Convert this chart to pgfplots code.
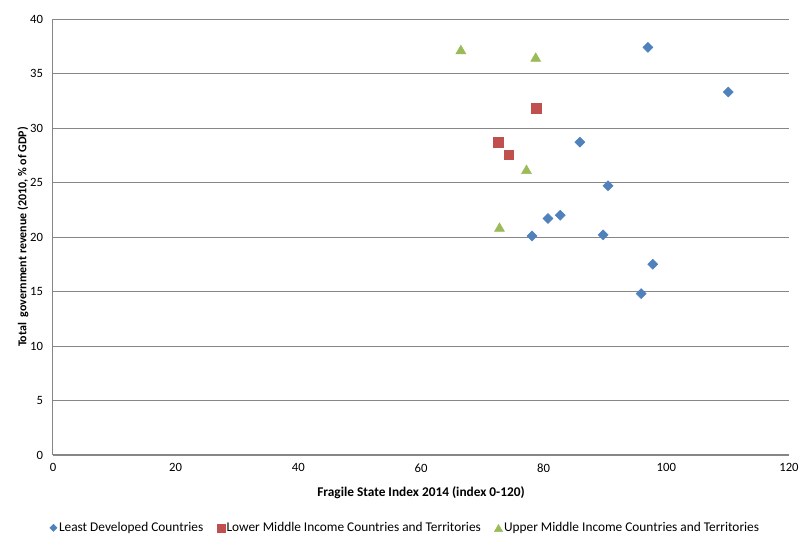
\documentclass[border=0pt]{standalone}
\usepackage{pgfplots}
\pgfplotsset{compat=1.18}
\usepackage{fontspec}
\setmainfont{Carlito}

\definecolor{ldcblue}{HTML}{4F81BD}
\definecolor{lmicred}{HTML}{C0504D}
\definecolor{umicgreen}{HTML}{9BBB59}
\definecolor{gridgray}{HTML}{868686}

\begin{document}
\begin{tikzpicture}[x=1pt,y=1pt]
% page frame: 801 x 536 px at 0.75 pt per px, axis box at the origin
\path[use as bounding box] (-39.75,-60.75) rectangle (561,341.25);
\begin{axis}[
  at={(0,0)}, anchor=south west,
  scale only axis,
  width=552pt, height=327pt,
  xmin=0, xmax=120, ymin=0, ymax=40,
  xtick={0,20,...,120}, ytick={0,5,...,40},
  major tick length=0pt,
  axis x line*=bottom, axis y line*=left,
  axis line style={gridgray, line width=0.75pt, -},
  ymajorgrids,
  grid style={gridgray, line width=0.6pt},
  tick label style={font=\fontsize{9.5}{11}\selectfont, black},
  /pgf/number format/assume math mode=true,
  xticklabel style={yshift=-3pt},
  yticklabel style={xshift=-4pt},
  xlabel={\textbf{Fragile State Index 2014 (index 0-120)}},
  ylabel={\textbf{Total\ \ government revenue (2010, \% of GDP)}},
  xlabel style={font=\fontsize{10}{12}\selectfont,
    at={(axis description cs:0.5,0)}, anchor=north, yshift=-20pt},
  ylabel style={font=\fontsize{9}{11}\selectfont,
    at={(axis description cs:0,0.5)}, anchor=south, yshift=15pt},
  legend columns=3,
  legend style={draw=none, fill=none, font=\fontsize{10}{12}\selectfont,
    at={(axis description cs:0.478,-0.167)}, anchor=center,
    inner xsep=0pt,
    nodes={inner xsep=1pt},
    /tikz/every even column/.append style={column sep=9pt}},
  legend cell align=left,
  legend image code/.code={%
    \draw[#1] plot coordinates {(0pt,0pt)};
    \path (-3pt,0pt) (3pt,0pt);},
]
\addplot[only marks, mark=square*, mark size=2.65pt,
  mark options={rotate=45, fill=ldcblue, draw=ldcblue},
  legend image post style={mark size=1.9pt}]
  coordinates {
  (97.0,37.4) (110.1,33.3) (85.9,28.7) (90.5,24.7) (82.7,22.0)
  (80.7,21.7) (78.1,20.1) (89.7,20.2) (97.8,17.5) (95.9,14.8)
  };
\addlegendentry{Least Developed Countries}
\addplot[only marks, mark=square*, mark size=3.6pt,
  mark options={fill=lmicred, draw=lmicred},
  legend image post style={mark size=3pt}]
  coordinates {
  (78.8,31.8) (72.6,28.7) (74.3,27.55)
  };
\addlegendentry{Lower Middle Income Countries and Territories}
\addplot[only marks, mark=triangle*, mark size=4.3pt,
  mark options={fill=umicgreen, draw=umicgreen, yshift=-1.05pt},
  legend image post style={mark size=3.5pt}]
  coordinates {
  (66.5,37.2) (78.7,36.5) (77.2,26.2) (72.8,20.9)
  };
\addlegendentry{Upper Middle Income Countries and Territories}
\end{axis}
\end{tikzpicture}
\end{document}
